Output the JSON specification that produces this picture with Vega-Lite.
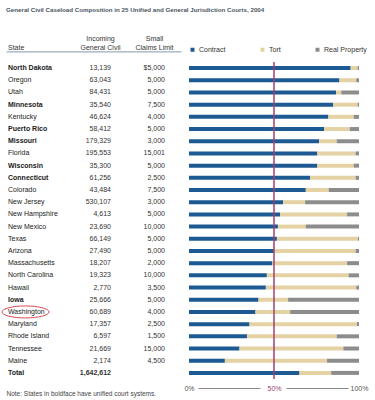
{
  "$schema": "https://vega.github.io/schema/vega-lite/v6.json",
  "padding": {"left": 0, "top": 7, "right": 5, "bottom": 2},
  "background": "white",
  "title": {
    "text": "General Civil Caseload Composition in 25 Unified and General Jurisdiction Courts, 2004",
    "anchor": "start",
    "frame": "bounds",
    "font": "Liberation Sans",
    "fontSize": 6.2,
    "fontWeight": "bold",
    "color": "#4a5563",
    "offset": 21.6,
    "dx": 6
  },
  "config": {
    "view": {"stroke": null},
    "font": "Liberation Sans"
  },
  "data": {
    "values": [
      {"state": "North Dakota", "unified": true, "incoming": 13139, "smallClaims": 5000, "Contract": 95.1, "Tort": 4.1, "Real Property": 0.8},
      {"state": "Oregon", "unified": false, "incoming": 63043, "smallClaims": 5000, "Contract": 88.5, "Tort": 9.9, "Real Property": 1.6},
      {"state": "Utah", "unified": false, "incoming": 84431, "smallClaims": 5000, "Contract": 86.5, "Tort": 3.1, "Real Property": 10.4},
      {"state": "Minnesota", "unified": true, "incoming": 35540, "smallClaims": 7500, "Contract": 84.9, "Tort": 14.3, "Real Property": 0.8},
      {"state": "Kentucky", "unified": false, "incoming": 46624, "smallClaims": 4000, "Contract": 82.0, "Tort": 14.9, "Real Property": 3.1},
      {"state": "Puerto Rico", "unified": true, "incoming": 58412, "smallClaims": 5000, "Contract": 79.5, "Tort": 15.0, "Real Property": 5.5},
      {"state": "Missouri", "unified": true, "incoming": 179329, "smallClaims": 3000, "Contract": 76.5, "Tort": 10.4, "Real Property": 13.1},
      {"state": "Florida", "unified": false, "incoming": 195553, "smallClaims": 15001, "Contract": 75.5, "Tort": 22.5, "Real Property": 2.0},
      {"state": "Wisconsin", "unified": true, "incoming": 35300, "smallClaims": 5000, "Contract": 75.5, "Tort": 21.4, "Real Property": 3.1},
      {"state": "Connecticut", "unified": true, "incoming": 61256, "smallClaims": 2500, "Contract": 71.2, "Tort": 26.8, "Real Property": 2.0},
      {"state": "Colorado", "unified": false, "incoming": 43484, "smallClaims": 7500, "Contract": 68.7, "Tort": 13.5, "Real Property": 17.8},
      {"state": "New Jersey", "unified": false, "incoming": 530107, "smallClaims": 3000, "Contract": 55.4, "Tort": 12.9, "Real Property": 31.7},
      {"state": "New Hampshire", "unified": false, "incoming": 4613, "smallClaims": 5000, "Contract": 53.6, "Tort": 39.4, "Real Property": 7.0},
      {"state": "New Mexico", "unified": false, "incoming": 23690, "smallClaims": 10000, "Contract": 52.3, "Tort": 16.4, "Real Property": 31.3},
      {"state": "Texas", "unified": false, "incoming": 66149, "smallClaims": 5000, "Contract": 51.7, "Tort": 47.7, "Real Property": 0.6},
      {"state": "Arizona", "unified": false, "incoming": 27490, "smallClaims": 5000, "Contract": 49.9, "Tort": 48.1, "Real Property": 2.0},
      {"state": "Massachusetts", "unified": false, "incoming": 18207, "smallClaims": 2000, "Contract": 49.1, "Tort": 43.9, "Real Property": 7.0},
      {"state": "North Carolina", "unified": false, "incoming": 19323, "smallClaims": 10000, "Contract": 45.8, "Tort": 48.1, "Real Property": 6.1},
      {"state": "Hawaii", "unified": false, "incoming": 2770, "smallClaims": 3500, "Contract": 45.2, "Tort": 53.2, "Real Property": 1.6},
      {"state": "Iowa", "unified": true, "incoming": 25666, "smallClaims": 5000, "Contract": 40.9, "Tort": 17.4, "Real Property": 41.7},
      {"state": "Washington", "unified": false, "incoming": 60689, "smallClaims": 4000, "Contract": 39.1, "Tort": 20.4, "Real Property": 40.5},
      {"state": "Maryland", "unified": false, "incoming": 17357, "smallClaims": 2500, "Contract": 35.6, "Tort": 63.2, "Real Property": 1.2},
      {"state": "Rhode Island", "unified": false, "incoming": 6597, "smallClaims": 1500, "Contract": 34.1, "Tort": 52.8, "Real Property": 13.1},
      {"state": "Tennessee", "unified": false, "incoming": 21669, "smallClaims": 15000, "Contract": 29.7, "Tort": 61.1, "Real Property": 9.2},
      {"state": "Maine", "unified": false, "incoming": 2174, "smallClaims": 4500, "Contract": 21.1, "Tort": 60.1, "Real Property": 18.8},
      {"state": "Total", "unified": false, "incoming": 1642612, "Contract": 65.0, "Tort": 18.6, "Real Property": 16.4}
    ]
  },
  "spacing": 2,
  "resolve": {"legend": {"color": "independent"}},
  "hconcat": [
    {
      "width": 175,
      "height": 317,
      "encoding": {
        "y": {"field": "state", "type": "nominal", "sort": null, "axis": null, "scale": {"type": "band", "paddingInner": 0, "paddingOuter": 0}}
      },
      "layer": [
        {
          "mark": {"type": "text", "align": "left", "baseline": "middle", "fontSize": 7, "color": "#222222", "fontWeight": {"expr": "datum.unified || datum.state === 'Total' ? 'bold' : 'normal'"}},
          "encoding": {
            "x": {
              "datum": "State", "type": "nominal", "bandPosition": 0,
              "scale": {"type": "band", "domain": ["State", "Incoming General Civil", "Small Claims Limit"], "paddingInner": 0.0926, "paddingOuter": 0.1667, "align": 0.111},
              "axis": {
                "orient": "top", "offset": 10.6, "title": null, "domain": true, "domainColor": "#8497ab", "domainWidth": 1,
                "ticks": false, "tickSize": 0, "labelPadding": 9.5, "labelAngle": 0, "labelBaseline": "bottom",
                "labelFontSize": 7, "labelColor": "#333333", "labelLineHeight": 9, "labelOverlap": false, "labelBound": false,
                "labelAlign": {"condition": {"test": "datum.value === 'State'", "value": "left"}, "value": "center"},
                "labelOffset": {"condition": {"test": "datum.value === 'State'", "value": -24.5}, "value": 14},
                "labelExpr": "datum.value === 'Incoming General Civil' ? ['Incoming', 'General Civil'] : datum.value === 'Small Claims Limit' ? ['Small', 'Claims Limit'] : ['', datum.value]"
              }
            },
            "text": {"field": "state", "type": "nominal"}
          }
        },
        {
          "mark": {"type": "text", "align": "right", "baseline": "middle", "fontSize": 7, "color": "#333333", "fontWeight": {"expr": "datum.state === 'Total' ? 'bold' : 'normal'"}},
          "encoding": {
            "x": {
              "datum": "Incoming General Civil", "type": "nominal", "bandPosition": 1,
              "axis": {
                "orient": "bottom", "domain": false, "ticks": false, "labels": false, "grid": false,
                "title": "Note: States in boldface have unified court systems.",
                "titleAnchor": "start", "titleAlign": "left", "titleBaseline": "top", "titlePadding": 11,
                "titleFontSize": 6.5, "titleFontWeight": "normal", "titleColor": "#444444"
              }
            },
            "text": {"field": "incoming", "type": "quantitative", "format": ","}
          }
        },
        {
          "transform": [{"filter": "isValid(datum.smallClaims)"}],
          "mark": {"type": "text", "align": "right", "baseline": "middle", "fontSize": 7, "color": "#333333"},
          "encoding": {
            "x": {"datum": "Small Claims Limit", "type": "nominal", "bandPosition": 1, "axis": null},
            "text": {
              "condition": {"test": "datum.state === 'North Dakota'", "field": "smallClaims", "type": "quantitative", "format": "$,"},
              "field": "smallClaims", "type": "quantitative", "format": ","
            }
          }
        },
        {
          "transform": [{"filter": "datum.state === 'Washington'"}],
          "mark": {"type": "point", "shape": "M -0.255 0 A 1 0.255 0 1 0 1.745 0 A 1 0.255 0 1 0 -0.255 0 Z", "size": 2209, "filled": false, "stroke": "#dd4b55", "strokeWidth": 1, "opacity": 1},
          "encoding": {
            "x": {"datum": "State", "type": "nominal", "bandPosition": 0, "axis": null}
          }
        }
      ],
      "resolve": {"axis": {"x": "independent"}}
    },
    {
      "width": 170,
      "height": 317,
      "layer": [
        {
          "transform": [
            {"fold": ["Contract", "Tort", "Real Property"], "as": ["type", "share"]},
            {"calculate": "indexof(['Contract', 'Tort', 'Real Property'], datum.type)", "as": "stackOrder"}
          ],
          "mark": {"type": "bar", "size": 4},
          "encoding": {
            "y": {"field": "state", "type": "nominal", "sort": null, "axis": null, "scale": {"paddingInner": 0, "paddingOuter": 0}},
            "x": {
              "field": "share", "type": "quantitative", "stack": "zero",
              "scale": {"domain": [0, 100], "nice": false},
              "axis": {
                "orient": "bottom", "offset": 9, "title": null, "values": [0, 50, 100],
                "labelExpr": "datum.value + '%'", "labelFlush": false, "labelAlign": "center",
                "labelBaseline": "middle", "labelPadding": 0, "ticks": false, "tickSize": 0, "grid": false,
                "domain": true, "domainColor": "#8a8a8a", "domainWidth": 1, "domainDash": [62, 26], "domainDashOffset": 79,
                "labelFontSize": 7,
                "labelColor": {"condition": {"test": "datum.value === 50", "value": "#a3406f"}, "value": "#555555"}
              }
            },
            "order": {"field": "stackOrder", "type": "quantitative"},
            "color": {
              "field": "type", "type": "nominal",
              "sort": ["Contract", "Tort", "Real Property"],
              "scale": {"domain": ["Contract", "Tort", "Real Property"], "range": ["#1d5a93", "#e4d2a4", "#8c8c8c"]},
              "legend": {
                "orient": "top", "direction": "horizontal", "title": null, "symbolType": "square", "symbolSize": 16,
                "symbolStrokeWidth": 0, "labelFontSize": 7, "labelColor": "#333333", "columnPadding": 33,
                "offset": 9, "labelOffset": 3, "padding": 0
              }
            }
          }
        },
        {
          "transform": [{"aggregate": [{"op": "count", "as": "n"}]}],
          "mark": {"type": "rule", "color": "#a3406f", "strokeWidth": 1.5},
          "encoding": {"x": {"datum": 50, "type": "quantitative"}}
        }
      ]
    }
  ]
}
